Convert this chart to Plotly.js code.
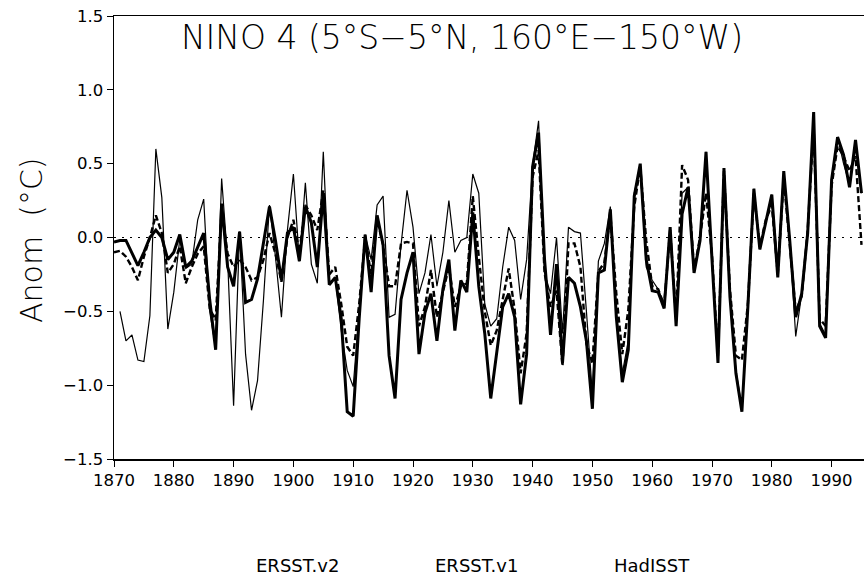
<!DOCTYPE html>
<html>
<head>
<meta charset="utf-8">
<script src="https://cdn.plot.ly/plotly-3.0.1.min.js"></script>
<style>html,body{margin:0;padding:0;background:#fff;}#chart{width:864px;height:582px;}</style>
</head>
<body>
<div id="chart"></div>
<script>
// Years 1870-1995
const years = [];
for (let y = 1870; y <= 1995; y++) years.push(y);

const seriesNames = ["ERSST.v2", "ERSST.v1", "HadISST"];

// ERSST.v2 (thick solid)
const ersstV2 = [
 -0.03,-0.02,-0.02,-0.11,-0.19,-0.10,0.00,0.05,0.00,-0.15,
 -0.10,0.02,-0.20,-0.16,-0.06,0.03,-0.42,-0.76,0.23,-0.20,
 -0.33,0.04,-0.44,-0.42,-0.28,-0.04,0.21,-0.02,-0.29,0.03,
 0.07,-0.16,0.21,0.10,-0.20,0.30,-0.32,-0.27,-0.55,-1.18,
 -1.21,-0.55,0.02,-0.37,0.15,-0.05,-0.80,-1.09,-0.42,-0.24,
 -0.10,-0.79,-0.51,-0.38,-0.70,-0.35,-0.15,-0.63,-0.29,-0.37,
 0.17,-0.33,-0.65,-1.09,-0.79,-0.47,-0.38,-0.54,-1.13,-0.79,
 0.48,0.71,-0.15,-0.66,-0.18,-0.85,-0.27,-0.31,-0.47,-0.70,
 -1.16,-0.24,-0.22,0.19,-0.54,-0.98,-0.76,0.28,0.50,-0.15,
 -0.36,-0.37,-0.48,0.07,-0.60,0.16,0.34,-0.24,-0.02,0.58,
 -0.15,-0.85,0.47,-0.40,-0.92,-1.18,-0.47,0.33,-0.08,0.10,
 0.29,-0.27,0.45,-0.02,-0.54,-0.38,0.03,0.85,-0.60,-0.68,
 0.39,0.68,0.56,0.34,0.66,0.30
];

// ERSST.v1 (dashed)
const ersstV1 = [
 -0.10,-0.09,-0.13,-0.20,-0.29,-0.13,0.00,0.15,0.03,-0.24,
 -0.18,-0.06,-0.31,-0.20,-0.11,-0.06,-0.48,-0.56,0.19,-0.11,
 -0.20,-0.15,-0.20,-0.29,-0.27,-0.15,0.03,-0.11,-0.30,0.00,
 0.12,-0.10,0.22,0.15,0.05,0.32,-0.25,-0.20,-0.45,-0.74,
 -0.80,-0.45,0.00,-0.25,0.12,-0.05,-0.33,-0.33,-0.04,-0.03,
 -0.04,-0.60,-0.47,-0.22,-0.54,-0.36,-0.20,-0.47,-0.33,-0.31,
 0.28,-0.13,-0.50,-0.73,-0.63,-0.42,-0.21,-0.49,-0.92,-0.65,
 0.41,0.59,-0.24,-0.47,-0.36,-0.87,-0.04,-0.04,-0.20,-0.72,
 -0.85,-0.23,-0.17,0.16,-0.38,-0.79,-0.49,0.21,0.48,-0.02,
 -0.33,-0.35,-0.46,0.05,-0.55,0.49,0.39,-0.22,0.00,0.30,
 -0.12,-0.80,0.45,-0.35,-0.80,-0.83,-0.45,0.30,-0.06,0.12,
 0.22,-0.25,0.40,-0.05,-0.50,-0.40,0.05,0.75,-0.55,-0.60,
 0.35,0.62,0.55,0.45,0.55,-0.05
];

// HadISST (thin solid), starts 1871
const hadisst = [
 null,-0.50,-0.70,-0.66,-0.83,-0.84,-0.53,0.60,0.27,-0.62,
 -0.37,-0.01,-0.21,-0.18,0.12,0.26,-0.50,-0.75,0.40,-0.15,
 -1.14,0.04,-0.79,-1.17,-0.97,-0.42,0.22,-0.13,-0.54,0.05,
 0.43,-0.16,0.37,-0.18,-0.31,0.58,-0.32,-0.27,-0.63,-0.90,
 -1.01,-0.50,0.02,-0.15,0.22,0.28,-0.54,-0.52,-0.05,0.32,
 0.07,-0.38,-0.24,0.02,-0.33,-0.10,0.25,-0.10,-0.02,0.00,
 0.43,0.30,-0.45,-0.60,-0.55,-0.20,0.07,-0.02,-0.42,-0.15,
 0.49,0.79,-0.24,-0.38,0.00,-0.65,0.07,0.04,0.03,-0.50,
 -1.06,-0.16,-0.04,0.21,-0.50,-0.92,-0.70,0.30,0.48,-0.20,
 -0.29,-0.35,-0.45,0.05,-0.58,0.30,0.34,-0.24,-0.02,0.58,
 -0.15,-0.85,0.47,-0.40,-0.90,-1.15,-0.47,0.33,-0.08,0.10,
 0.29,-0.20,0.45,-0.02,-0.67,-0.38,0.03,0.85,-0.58,-0.66,
 0.39,0.68,0.50,0.36,0.66,0.30
];

const xTicks = [1870,1880,1890,1900,1910,1920,1930,1940,1950,1960,1970,1980,1990];
const yTicks = [-1.5,-1.0,-0.5,0.0,0.5,1.0,1.5];

const FONT = "DejaVu Sans, sans-serif";
const THIN = 200;

const traces = [
  {x: years, y: hadisst, name: seriesNames[2], mode: "lines", line: {color: "#000", width: 1.2}, connectgaps: false},
  {x: years, y: ersstV1, name: seriesNames[1], mode: "lines", line: {color: "#000", width: 2.4, dash: "6px,3px"}},
  {x: years, y: ersstV2, name: seriesNames[0], mode: "lines", line: {color: "#000", width: 3}}
];

const L = 114, R = 0, T = 16, B = 123;
const W = 864, H = 582;
const pw = W - L - R, ph = H - T - B;
function px2paperX(px){ return (px - L) / pw; }
function px2paperY(py){ return (H - B - py) / ph; }

const legendX = [297, 476, 652];
const annotations = seriesNames.map((n, i) => ({
  text: n, xref: "paper", yref: "paper", x: px2paperX(legendX[i]), y: px2paperY(565),
  xanchor: "center", yanchor: "middle", showarrow: false,
  font: {family: FONT, size: 18, color: "#000"}
}));
annotations.push({
  text: "Anom  (°C)", xref: "paper", yref: "paper", x: px2paperX(31), y: px2paperY(240),
  xanchor: "center", yanchor: "middle", showarrow: false, textangle: -90,
  font: {family: FONT, size: 30, color: "#000", weight: THIN}
});

const layout = {
  width: W, height: H,
  margin: {l: L, r: R, t: T, b: B},
  paper_bgcolor: "#fff", plot_bgcolor: "#fff",
  showlegend: false,
  title: {text: "NINO 4 (5°S−5°N, 160°E−150°W)", x: 462 / W, y: 1 - 37 / H,
          xref: "container", yref: "container", xanchor: "center", yanchor: "middle",
          font: {family: FONT, size: 33, color: "#000", weight: THIN}},
  xaxis: {range: [1870, 1870 + pw / 5.98], tickvals: xTicks, ticks: "outside", ticklen: 6,
          tickwidth: 1, tickcolor: "#000", showline: true, linecolor: "#000", linewidth: 1.5,
          mirror: true, showgrid: false, zeroline: false,
          tickfont: {family: FONT, size: 16.5, color: "#000"}},
  yaxis: {range: [-1.5, 1.5], tickvals: yTicks, tickformat: ".1f", ticks: "outside", ticklen: 6,
          tickwidth: 1, tickcolor: "#000", showline: true, linecolor: "#000", linewidth: 1.5,
          showgrid: false, zeroline: false,
          tickfont: {family: FONT, size: 16.5, color: "#000"}},
  shapes: [{type: "line", xref: "paper", yref: "y", x0: 0, x1: 1, y0: 0, y1: 0,
            line: {color: "#000", width: 1.2, dash: "2px,6px"}}],
  annotations: annotations
};

Plotly.newPlot("chart", traces, layout, {staticPlot: true, displayModeBar: false});
</script>
</body>
</html>
